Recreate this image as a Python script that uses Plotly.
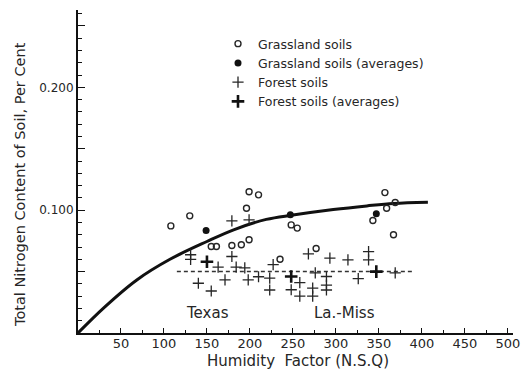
import plotly.graph_objects as go

# ---- data ----
curve_x = [0, 30, 68, 107, 150, 181, 219, 250, 297, 336, 367, 407]
curve_y = [0, 0.0205, 0.043, 0.060, 0.0745, 0.084, 0.0925, 0.096, 0.1005, 0.1035, 0.1055, 0.1065]

dashed_x = [115, 390]
dashed_y = [0.050, 0.050]

grass_x = [108, 130, 155, 161, 179, 190, 199, 196, 199, 210, 248, 255, 235, 277, 343, 357, 359, 369, 367]
grass_y = [0.0872, 0.0954, 0.0704, 0.0704, 0.0712, 0.0718, 0.0759, 0.1016, 0.115, 0.1125,
           0.088, 0.0854, 0.060, 0.0688, 0.0916, 0.1143, 0.1016, 0.1062, 0.080]

grass_avg_x = [149, 247, 347]
grass_avg_y = [0.0834, 0.0962, 0.097]

forest_x = [131, 131, 140, 155, 163, 171, 179, 179, 184, 194, 198, 199, 210, 223, 223, 227,
            248, 258, 258, 268, 273, 273, 276, 289, 289, 289, 293, 314, 326, 338, 338, 369]
forest_y = [0.0637, 0.0600, 0.0405, 0.0342, 0.0537, 0.0433, 0.0913, 0.0623, 0.0537, 0.0530,
            0.0433, 0.0921, 0.0458, 0.0447, 0.0350, 0.0556, 0.0352, 0.0410, 0.0300, 0.0645,
            0.0366, 0.0300, 0.0490, 0.0460, 0.0390, 0.0350, 0.0610, 0.0596, 0.0443, 0.0663,
            0.0596, 0.0490]

forest_avg_x = [150, 248, 347]
forest_avg_y = [0.058, 0.046, 0.050]

x_ticks = [50, 100, 150, 200, 250, 300, 350, 400, 450, 500]
y_ticks = [0.05, 0.10, 0.15, 0.20, 0.25]
y_tick_text = ["", "0.100", "", "0.200", ""]

region_labels = ["Texas", "La.-Miss"]
region_x = [151, 310]
region_y = [0.0165, 0.0165]

INK = "#262626"
FONT = "DejaVu Sans"

fig = go.Figure()

fig.add_trace(go.Scatter(x=curve_x, y=curve_y, mode="lines", line=dict(color="#111", width=3, shape="spline"),
                         showlegend=False, hoverinfo="skip"))
fig.add_trace(go.Scatter(x=dashed_x, y=dashed_y, mode="lines", line=dict(color="#333", width=1.5, dash="4px,3px"),
                         showlegend=False, hoverinfo="skip"))

fig.add_trace(go.Scatter(x=grass_x, y=grass_y, mode="markers", name="Grassland soils",
                         marker=dict(symbol="circle-open", size=6, color=INK, line=dict(width=1.4, color=INK))))
fig.add_trace(go.Scatter(x=grass_avg_x, y=grass_avg_y, mode="markers", name="Grassland soils (averages)",
                         marker=dict(symbol="circle", size=7, color="#111")))
fig.add_trace(go.Scatter(x=forest_x, y=forest_y, mode="markers", name="Forest soils",
                         marker=dict(symbol="cross-thin", size=8, color=INK, line=dict(width=1.3, color=INK))))
fig.add_trace(go.Scatter(x=forest_avg_x, y=forest_avg_y, mode="markers", name="Forest soils (averages)",
                         marker=dict(symbol="cross-thin", size=9, color="#111", line=dict(width=2.6, color="#111"))))

for t, xx, yy in zip(region_labels, region_x, region_y):
    fig.add_annotation(x=xx, y=yy, text=t, showarrow=False, xanchor="center", yanchor="middle",
                       font=dict(family=FONT, size=15, color=INK))

fig.add_annotation(xref="paper", yref="paper", x=(298 - 78) / 435, y=(333 - 361) / 323,
                   xanchor="center", yanchor="middle",
                   text="Humidity  Factor (N.S.Q)", showarrow=False,
                   font=dict(family=FONT, size=15, color=INK))
fig.add_annotation(xref="paper", yref="paper", x=(20 - 78) / 435, y=(333 - 185) / 323,
                   xanchor="center", yanchor="middle",
                   text="Total Nitrogen Content of Soil, Per Cent", textangle=-90, showarrow=False,
                   font=dict(family=FONT, size=14.5, color=INK))

fig.update_layout(
    template="none",
    width=522, height=379,
    margin=dict(l=78, r=9, t=10, b=46, autoexpand=False),
    paper_bgcolor="white", plot_bgcolor="white",
    font=dict(family=FONT, size=13, color=INK),
    legend=dict(x=(218 - 78) / 435, y=1 - (29 - 10) / 323, xanchor="left", yanchor="top",
                bgcolor="rgba(0,0,0,0)", font=dict(family=FONT, size=12.5, color=INK),
                tracegroupgap=0, itemwidth=30),
    xaxis=dict(range=[0, 506], showgrid=False, zeroline=False, showline=True, linecolor="#111", linewidth=2,
               automargin=False,
               tickmode="array", tickvals=x_ticks, ticks="inside", ticklen=5, tickcolor="#111",
               ticklabelstandoff=-3,
               tickfont=dict(family=FONT, size=13, color=INK),
               minor=dict(dtick=25, ticks="inside", ticklen=3, tickcolor="#111")),
    yaxis=dict(range=[0, 0.263], showgrid=False, zeroline=False, showline=True, linecolor="#111", linewidth=2,
               automargin=False,
               tickmode="array", tickvals=y_ticks, ticktext=y_tick_text, ticks="inside", ticklen=7,
               tickcolor="#111", tickfont=dict(family=FONT, size=12, color=INK),
               minor=dict(dtick=0.01, tick0=0, ticks="inside", ticklen=4, tickcolor="#111")),
)

fig.write_html("out.html", config={"displayModeBar": False},
               post_script="document.body.style.margin='0';document.body.style.overflow='hidden';")
